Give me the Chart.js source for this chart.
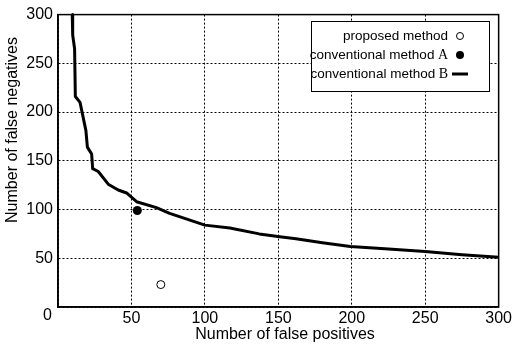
<!DOCTYPE html>
<html>
<head>
<meta charset="utf-8">
<script src="https://cdn.jsdelivr.net/npm/chart.js@4.4.1/dist/chart.umd.min.js"></script>
<style>
  html, body { margin: 0; padding: 0; background: #fff; }
  #wrap { width: 514px; height: 347px; }
</style>
</head>
<body>
<div id="wrap"><canvas id="c" width="514" height="347"></canvas></div>
<script>
// ---- data ----
const xTitle = 'Number of false positives';
const yTitle = 'Number of false negatives';
const legendLabels = ['proposed method', 'conventional method', 'conventional method'];
const legendSuffix = ['', 'A', 'B'];

const proposedX = [70];
const proposedY = [23];

const methodAX = [54];
const methodAY = [99];

const methodBX = [9.7, 10, 11.3, 11.8, 15, 19, 20, 22.9, 23.6, 27.4, 34.2, 41, 46.7, 53.5, 67, 76, 100, 117, 137, 151, 162, 180, 199, 225, 250, 275, 300];
const methodBY = [300, 279, 265, 216, 210, 181, 164, 157, 142, 139, 126, 120, 117, 108, 102, 96, 84, 81, 75, 72, 70, 66, 62, 59.5, 57, 53.7, 51];

const xTicks = [0, 50, 100, 150, 200, 250, 300];
const yTicks = [0, 50, 100, 150, 200, 250, 300];

const toPts = (xs, ys) => xs.map((x, i) => ({ x: x, y: ys[i] }));

const SANS = '"Liberation Sans", Arial, Helvetica, sans-serif';
const SERIF = '"Liberation Serif", "Times New Roman", serif';

const decor = {
  id: 'decor',
  afterDraw(chart) {
    const ctx = chart.ctx;
    const a = chart.chartArea;
    ctx.save();
    // frame
    ctx.strokeStyle = '#000';
    ctx.lineWidth = 1.5;
    ctx.strokeRect(a.left, a.top, a.right - a.left, a.bottom - a.top);

    // shared zero label at corner
    ctx.fillStyle = '#000';
    ctx.font = '16px ' + SANS;
    ctx.textAlign = 'center';
    ctx.textBaseline = 'middle';
    ctx.fillText('0', 47.5, 316);

    // x title
    ctx.fillText(xTitle, 285, 335);

    // y title
    ctx.save();
    ctx.translate(13, 130);
    ctx.rotate(-Math.PI / 2);
    ctx.fillText(yTitle, 0, 0);
    ctx.restore();

    // legend box
    const bx = 311, by = 21, bw = 178, bh = 70;
    ctx.fillStyle = '#fff';
    ctx.fillRect(bx, by, bw, bh);
    ctx.lineWidth = 1;
    ctx.strokeStyle = '#000';
    ctx.strokeRect(bx + 0.5, by + 0.5, bw, bh);

    const rows = [36, 55, 74];
    const textRight = 448;
    for (let i = 0; i < 3; i++) {
      const y = rows[i];
      ctx.fillStyle = '#000';
      ctx.textBaseline = 'middle';
      ctx.textAlign = 'right';
      let right = textRight;
      if (legendSuffix[i]) {
        ctx.font = '14px ' + SERIF;
        ctx.fillText(legendSuffix[i], right, y);
        right -= ctx.measureText(legendSuffix[i]).width + 3.5;
      }
      ctx.font = '13.5px ' + SANS;
      ctx.fillText(legendLabels[i], right, y);
    }
    // markers
    ctx.lineWidth = 1;
    ctx.strokeStyle = '#000';
    ctx.beginPath();
    ctx.arc(460, rows[0], 3.5, 0, Math.PI * 2);
    ctx.fillStyle = '#fff';
    ctx.fill();
    ctx.stroke();
    ctx.beginPath();
    ctx.arc(460, rows[1], 4, 0, Math.PI * 2);
    ctx.fillStyle = '#000';
    ctx.fill();
    ctx.lineWidth = 3;
    ctx.beginPath();
    ctx.moveTo(452, rows[2]);
    ctx.lineTo(468, rows[2]);
    ctx.stroke();
    ctx.restore();
  }
};

new Chart(document.getElementById('c'), {
  type: 'scatter',
  data: {
    datasets: [
      {
        label: 'conventional method B',
        data: toPts(methodBX, methodBY),
        showLine: true,
        borderColor: '#000',
        borderWidth: 3,
        pointRadius: 0,
        tension: 0,
        borderJoinStyle: 'round',
        borderCapStyle: 'butt',
        order: 3
      },
      {
        label: 'conventional method A',
        data: toPts(methodAX, methodAY),
        pointRadius: 4.5,
        backgroundColor: '#000',
        borderColor: '#000',
        borderWidth: 0,
        order: 2
      },
      {
        label: 'proposed method',
        data: toPts(proposedX, proposedY),
        pointRadius: 4,
        backgroundColor: '#fff',
        borderColor: '#000',
        borderWidth: 1,
        order: 1
      }
    ]
  },
  options: {
    responsive: false,
    animation: false,
    events: [],
    clip: false,
    layout: { padding: { top: 11, right: 15, left: 0, bottom: 0 } },
    plugins: {
      legend: { display: false },
      tooltip: { enabled: false },
      title: { display: false }
    },
    scales: {
      x: {
        type: 'linear',
        min: 0,
        max: 300,
        afterBuildTicks: (s) => { s.ticks = xTicks.map(v => ({ value: v })); },
        afterFit: (s) => { s.height = 40; },
        ticks: {
          color: '#000',
          font: { family: SANS, size: 16 },
          padding: 2,
          maxRotation: 0,
          callback: (v) => (v === 0 ? '' : String(v))
        },
        grid: { color: '#000', lineWidth: 1, drawTicks: false },
        border: { display: true, color: '#000', width: 1.5, dash: [2, 2] }
      },
      y: {
        type: 'linear',
        min: 0,
        max: 300,
        afterBuildTicks: (s) => { s.ticks = yTicks.map(v => ({ value: v })); },
        afterFit: (s) => { s.width = 58; },
        ticks: {
          color: '#000',
          font: { family: SANS, size: 16 },
          padding: 5,
          callback: (v) => (v === 0 ? '' : String(v))
        },
        grid: { color: '#000', lineWidth: 1, drawTicks: false },
        border: { display: true, color: '#000', width: 1.5, dash: [2, 2] }
      }
    }
  },
  plugins: [decor]
});
</script>
</body>
</html>
